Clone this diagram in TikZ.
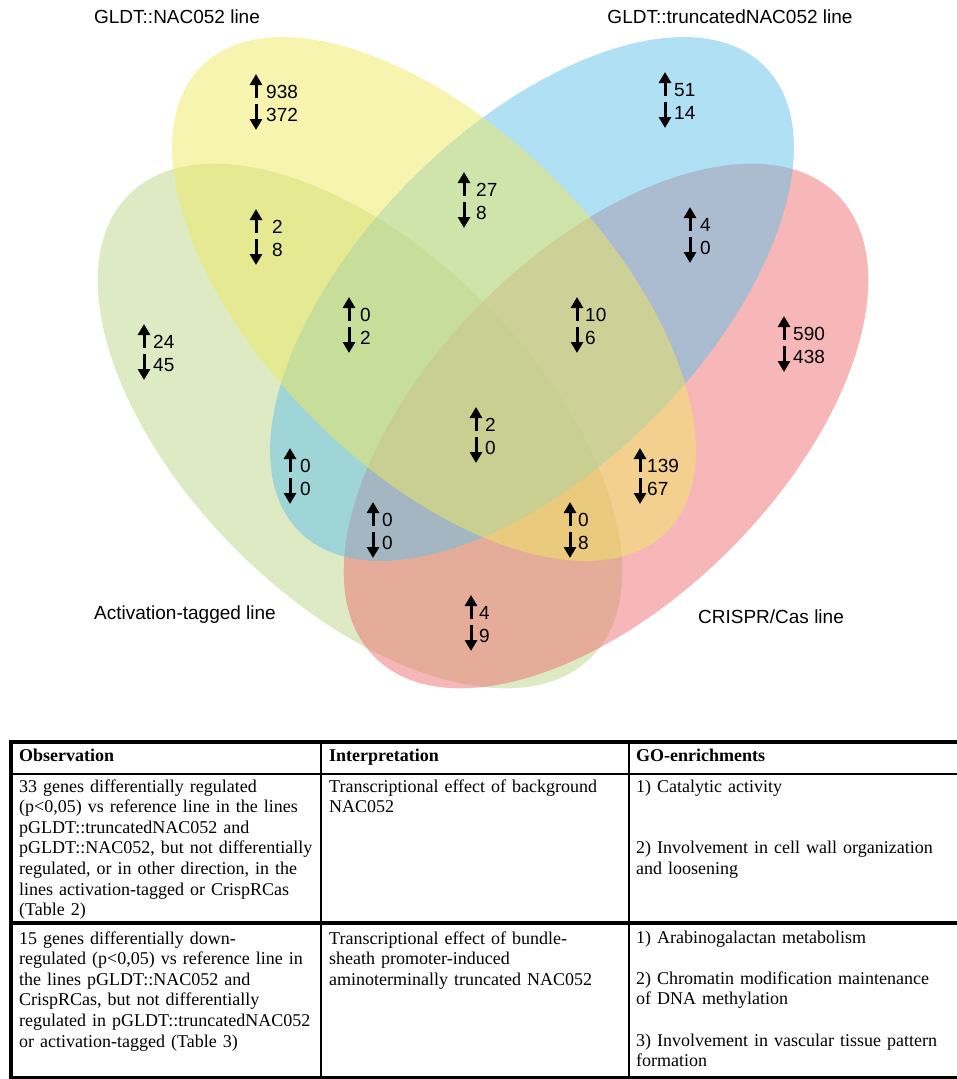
\documentclass[tikz,border=0pt]{standalone}
\usepackage{fontspec}
\setmainfont{Liberation Serif}
\setsansfont{Liberation Sans}
\usetikzlibrary{arrows.meta}
\definecolor{actgreen}{RGB}{187,213,135}
\definecolor{crisred}{RGB}{239,111,115}
\definecolor{truncblue}{RGB}{97,193,233}
\definecolor{nacyellow}{RGB}{239,233,97}
\begin{document}
\begin{tikzpicture}[x=1pt,y=-1pt,line join=round,
	venn/.style={fill opacity=0.5},
	setlabel/.style={font=\sffamily\fontsize{19}{22}\selectfont,inner sep=0},
	num/.style={font=\sffamily\fontsize{19}{22}\selectfont,anchor=west,inner sep=0},
	updown/.style={line width=3pt,-{Triangle[width=12pt,length=11pt]}},
	cell/.style={font=\fontsize{18}{20.6}\selectfont,anchor=base west,inner sep=0,align=left,text width=#1},
	head/.style={font=\bfseries\fontsize{18}{20.6}\selectfont,anchor=base west,inner sep=0}]
	\useasboundingbox (0,0) rectangle (957,1079);
	
	% the four lines
	\fill[actgreen,venn,rotate around={-45:(360,426)}] (360,426) ellipse [x radius=327,y radius=175];
	\fill[crisred,venn,rotate around={45:(606,426)}] (606,426) ellipse [x radius=327,y radius=175];
	\fill[truncblue,venn,rotate around={45:(532,299)}] (532,299) ellipse [x radius=329,y radius=170];
	\fill[nacyellow,venn,rotate around={-45:(434,299)}] (434,299) ellipse [x radius=329,y radius=170];
	
	\node[setlabel] (labnac) at (177,17) {GLDT::NAC052 line};
	\node[setlabel] (labtrunc) at (730,17) {GLDT::truncatedNAC052 line};
	\node[setlabel] (labact) at (185,615) {Activation-tagged line};
	\node[setlabel] (labcris) at (771,617) {CRISPR/Cas line};
	
	% up / down counts
	\foreach \ax/\ay/\nx/\u/\d [count=\i] in {256/92/266/938/372, 665/90/674/51/14,
		256/227/272/2/8, 464/190/476/27/8, 690/225/700/4/0, 144/342/153/24/45,
		349/315/360/0/2, 577/315/585/10/6, 784/334/793/590/438, 476/425/485/2/0,
		290/466/300/0/0, 640/466/647/139/67, 373/520/382/0/0, 570/520/578/0/8,
		471/613/479/4/9}
	{
		\draw[updown] (\ax,\ay+6) -- (\ax,\ay-18);
		\draw[updown] (\ax,\ay+12) -- (\ax,\ay+38);
		\node[num] (up\i) at (\nx,\ay) {\u};
		\node[num] (dn\i) at (\nx,\ay+23) {\d};
	}
	
	% table
	\draw[line width=1.2pt] (11,774) -- (957,774);
	\draw[line width=1.2pt] (321,742) -- (321,1077);
	\draw[line width=1.2pt] (629,742) -- (629,1077);
	\draw[line width=4pt] (9,742) -- (957,742);
	\draw[line width=3.5pt] (11,740) -- (11,1079);
	\draw[line width=3.5pt] (11,923) -- (957,923);
	\draw[line width=3pt] (11,1077) -- (957,1077);
	
	\node[head] (hobs) at (19,761) {Observation};
	\node[head] (hint) at (329,761) {Interpretation};
	\node[head] (hgo) at (636,761) {GO-enrichments};
	
	\node[cell=360pt] (obsa) at (19,792) {33 genes differentially regulated\\(p<0,05) vs reference line in the lines\\pGLDT::truncatedNAC052 and\\pGLDT::NAC052, but not differentially\\regulated, or in other direction, in the\\lines activation-tagged or CrispRCas\\(Table 2)};
	\node[cell=340pt] (inta) at (329,792) {Transcriptional effect of background\\NAC052};
	\node[cell=340pt] (goa) at (636,792) {1) Catalytic activity\\[2\baselineskip]2) Involvement in cell wall organization\\and loosening};
	
	\node[cell=360pt] (obsb) at (19,944) {15 genes differentially down-\\regulated (p<0,05) vs reference line in\\the lines pGLDT::NAC052 and\\CrispRCas, but not differentially\\regulated in pGLDT::truncatedNAC052\\or activation-tagged (Table 3)};
	\node[cell=340pt] (intb) at (329,944) {Transcriptional effect of bundle-\\sheath promoter-induced\\aminoterminally truncated NAC052};
	\node[cell=340pt] (gob) at (636,943) {1) Arabinogalactan metabolism\\[\baselineskip]2) Chromatin modification maintenance\\of DNA methylation\\[\baselineskip]3) Involvement in vascular tissue pattern\\formation};
\end{tikzpicture}
\end{document}
